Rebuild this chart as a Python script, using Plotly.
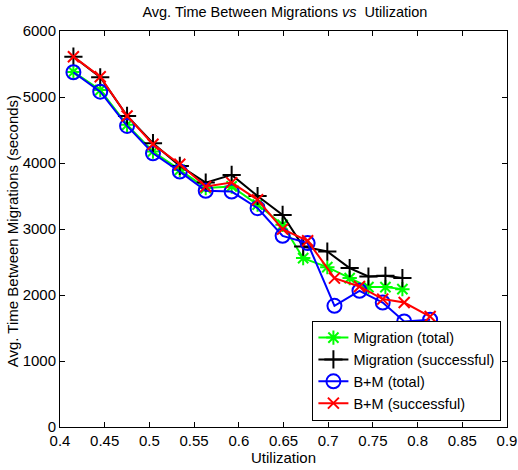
import plotly.graph_objects as go

# Data
mig_x = [0.415, 0.445, 0.475, 0.504, 0.534, 0.563, 0.592, 0.621, 0.649, 0.672, 0.699, 0.724, 0.745, 0.764, 0.783]
mig_total = [5380, 5105, 4578, 4175, 3895, 3620, 3645, 3370, 3063, 2559, 2422, 2256, 2120, 2120, 2089]
mig_success = [5611, 5299, 4713, 4300, 3956, 3703, 3820, 3500, 3214, 2734, 2659, 2408, 2280, 2291, 2256]

bm_x = [0.415, 0.445, 0.475, 0.504, 0.534, 0.563, 0.592, 0.621, 0.649, 0.677, 0.707, 0.735, 0.761, 0.785, 0.814]
bm_total = [5375, 5081, 4562, 4148, 3870, 3578, 3567, 3316, 2896, 2786, 1836, 2064, 1886, 1599, 1625]
bm_success = [5611, 5308, 4713, 4285, 3982, 3643, 3703, 3443, 2998, 2821, 2256, 2129, 1938, 1886, 1674]

x_ticks = [0.4, 0.45, 0.5, 0.55, 0.6, 0.65, 0.7, 0.75, 0.8, 0.85, 0.9]
x_ticklabels = ["0.4", "0.45", "0.5", "0.55", "0.6", "0.65", "0.7", "0.75", "0.8", "0.85", "0.9"]
y_ticks = [0, 1000, 2000, 3000, 4000, 5000, 6000]
y_ticklabels = ["0", "1000", "2000", "3000", "4000", "5000", "6000"]

FONT = "Liberation Sans, Arial, Helvetica, sans-serif"

fig = go.Figure()

def add(x, y, name, color, symbol, size):
    fig.add_trace(go.Scatter(
        x=x, y=y, name=name, mode="lines+markers",
        line=dict(color=color, width=2),
        marker=dict(symbol=symbol, size=size, color=color,
                    line=dict(color=color, width=2)),
    ))

add(mig_x, mig_total, "Migration (total)", "#00ff00", "asterisk-open", 12)
add(mig_x, mig_success, "Migration (successful)", "#000000", "cross-thin-open", 13)
add(bm_x, bm_total, "B+M (total)", "#0000ff", "circle-open", 14)
add(bm_x, bm_success, "B+M (successful)", "#ff0000", "x-thin-open", 11)

axis_common = dict(
    showgrid=False, zeroline=False, showline=True, linecolor="black", linewidth=1,
    mirror="ticks", ticks="inside", ticklen=5, tickcolor="black", tickwidth=1,
    automargin=False,
    tickfont=dict(family=FONT, size=15, color="black"),
)

fig.update_layout(
    width=518, height=470,
    margin=dict(l=60, r=11, t=31, b=43),
    paper_bgcolor="white", plot_bgcolor="white",
    font=dict(family=FONT, color="black"),
    title=dict(text="Avg. Time Between Migrations <i>vs</i>  Utilization",
               x=0.55, xanchor="center", y=0.975, yanchor="middle",
               font=dict(family=FONT, size=14.5, color="black")),
    xaxis=dict(range=[0.4, 0.9], tickvals=x_ticks, ticktext=x_ticklabels,
               title=dict(text="Utilization", standoff=1,
                          font=dict(family=FONT, size=15, color="black")),
               **axis_common),
    yaxis=dict(range=[0, 6000], tickvals=y_ticks, ticktext=y_ticklabels,
               **axis_common),
    legend=dict(x=0.9875, y=0.016, xanchor="right", yanchor="bottom",
                bgcolor="white", bordercolor="black", borderwidth=1,
                font=dict(family=FONT, size=14.5, color="black"),
                tracegroupgap=0),
    showlegend=True,
    annotations=[dict(
        text="Avg. Time Between Migrations (seconds)",
        xref="paper", yref="paper", x=-0.1045, y=0.495,
        xanchor="center", yanchor="middle", textangle=-90, showarrow=False,
        font=dict(family=FONT, size=15, color="black"),
    )],
)

fig.write_html("out.html",
               config={"displayModeBar": False},
               post_script="document.body.style.margin='0px';document.body.style.overflow='hidden';")
